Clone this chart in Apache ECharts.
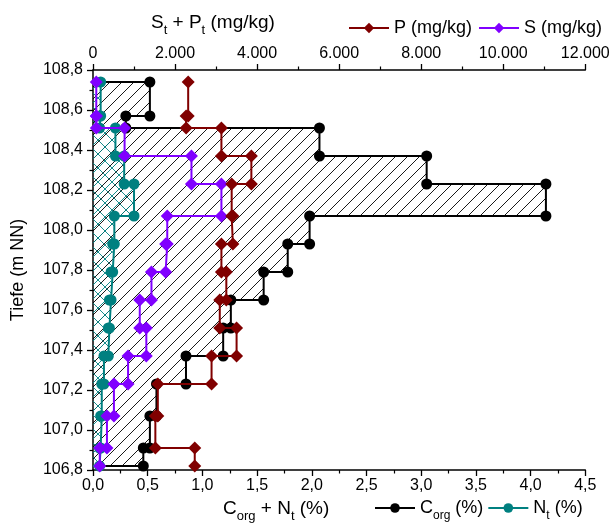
<!DOCTYPE html>
<html>
<head>
<meta charset="utf-8">
<script src="https://cdn.jsdelivr.net/npm/echarts@6/dist/echarts.min.js"></script>
<style>html,body{margin:0;padding:0;background:#fff;}#c{width:613px;height:527px;}</style>
</head>
<body>
<div id="c"></div>
<script>
// Layer boundaries (Tiefe, m NN)
const layerTop    = [108.74,108.57,108.51,108.37,108.23,108.07,107.93,107.79,107.65,107.51,107.37,107.23,107.07,106.91];
const layerBottom = [108.57,108.51,108.37,108.23,108.07,107.93,107.79,107.65,107.51,107.37,107.23,107.07,106.91,106.82];
// C_org (%)
const cOrg = [0.52,0.30,2.07,3.05,4.14,1.98,1.78,1.56,1.26,1.19,0.85,0.58,0.52,0.46];
// N_t (%)
const nT   = [0.07,0.06,0.205,0.285,0.375,0.195,0.18,0.165,0.15,0.14,0.10,0.08,0.07,0.06];
// P (mg/kg)
const pVal = [2320,2270,3130,3860,3380,3410,3130,3250,3090,3500,2890,1580,1520,2480];
// S (mg/kg)
const sVal = [80,80,770,2400,3130,1810,1770,1425,1140,1300,855,510,340,165];
// tick labels
const yTicks = {min:106.8, max:108.8, step:0.2};
const xPctTicks = {min:0, max:4.5, step:0.5};
const xMgTicks = {min:0, max:12000, step:2000};

const FONT = 'Liberation Sans, Arial, sans-serif';

function hatch(size, color, cross, lw) {
  const c = document.createElement('canvas');
  c.width = size; c.height = size;
  const g = c.getContext('2d');
  g.strokeStyle = color; g.lineWidth = lw;
  g.beginPath();
  g.moveTo(-1, size + 1); g.lineTo(size + 1, -1);
  g.moveTo(-2, 2); g.lineTo(2, -2);
  g.moveTo(size - 2, size + 2); g.lineTo(size + 2, size - 2);
  if (cross) {
    g.moveTo(-1, -1); g.lineTo(size + 1, size + 1);
    g.moveTo(size - 2, -2); g.lineTo(size + 2, 2);
    g.moveTo(-2, size - 2); g.lineTo(2, size + 2);
  }
  g.stroke();
  return c;
}
const blackHatch = {image: hatch(12, '#000', false, 0.9), repeat: 'repeat'};
const tealHatch = {image: hatch(14, '#008080', true, 0.9), repeat: 'repeat'};

function steps(vals, withAxis) {
  const pts = [];
  const last = layerBottom.length - 1;
  if (withAxis) pts.push({value: [0, layerTop[0]], symbol: 'none'});
  vals.forEach((v, i) => { pts.push([v, layerTop[i]]); pts.push([v, layerBottom[i]]); });
  if (withAxis) pts.push({value: [0, layerBottom[last]], symbol: 'none'});
  return pts;
}

function fillSeries(vals, pattern, z) {
  return {
    type: 'custom', xAxisIndex: 0, yAxisIndex: 0, silent: true, z: z,
    data: vals.map((v, i) => [v, layerTop[i], layerBottom[i]]),
    encode: {x: 0, y: [1, 2]},
    renderItem: function (params, api) {
      const a = api.coord([0, api.value(1)]);
      const b = api.coord([api.value(0), api.value(2)]);
      return {type: 'rect', shape: {x: a[0], y: a[1], width: b[0] - a[0], height: b[1] - a[1]},
              style: {fill: pattern, stroke: null}};
    }
  };
}

function pct(v) { return v.toFixed(1).replace('.', ','); }
function mg(v) { return String(Math.round(v)).replace(/\B(?=(\d{3})+(?!\d))/g, '.'); }

const chart = echarts.init(document.getElementById('c'), null, {renderer: 'canvas'});
const axisCommon = {
  axisLine: {show: true, onZero: false, lineStyle: {color: '#000', width: 1.5}},
  axisTick: {show: true, inside: false, length: 6, lineStyle: {color: '#000', width: 1.3}},
  minorTick: {show: true, splitNumber: 2, length: 3.5, lineStyle: {color: '#000', width: 1.2}},
  splitLine: {show: false},
  axisLabel: {color: '#000', fontSize: 16, fontFamily: FONT}
};

const subRich = {
  a: {fontSize: 18, fontFamily: FONT, fontWeight: 'normal', color: '#000', lineHeight: 24},
  s: {fontSize: 12, fontFamily: FONT, fontWeight: 'normal', color: '#000', lineHeight: 27, verticalAlign: 'bottom'}
};
const titleRich = {
  a: {fontSize: 19, fontFamily: FONT, fontWeight: 'normal', color: '#000', lineHeight: 24},
  s: {fontSize: 13, fontFamily: FONT, fontWeight: 'normal', color: '#000', lineHeight: 28, verticalAlign: 'bottom'}
};

chart.setOption({
  animation: false,
  backgroundColor: '#fff',
  title: [
    {text: '{a|S}{s|t}{a| + P}{s|t}{a| (mg/kg)}', left: 146, top: 4, textStyle: {fontWeight: 'normal', rich: titleRich}},
    {text: '{a|C}{s|org}{a| + N}{s|t}{a| (%)}', left: 218, top: 490, textStyle: {fontWeight: 'normal', rich: titleRich}}
  ],
  grid: {left: 93, right: 27.7, top: 70, bottom: 57, containLabel: false},
  legend: [
    {data: ['P (mg/kg)', 'S (mg/kg)'], left: 343, top: 14, itemWidth: 40, itemHeight: 13, itemGap: 6,
     textStyle: {fontSize: 18, fontFamily: FONT, color: '#000'}, selectedMode: false},
    {data: ['C_org (%)', 'N_t (%)'], left: 369, top: 494, itemWidth: 40, itemHeight: 12, itemGap: 4,
     selectedMode: false,
     formatter: function (name) {
       return name === 'C_org (%)' ? '{a|C}{s|org}{a| (%)}' : '{a|N}{s|t}{a| (%)}';
     },
     textStyle: {rich: subRich}}
  ],
  xAxis: [
    Object.assign({}, axisCommon, {
      type: 'value', position: 'bottom', min: xPctTicks.min, max: xPctTicks.max, interval: xPctTicks.step,
      axisLabel: Object.assign({}, axisCommon.axisLabel, {formatter: pct, margin: 8})
    }),
    Object.assign({}, axisCommon, {
      type: 'value', position: 'top', min: xMgTicks.min, max: xMgTicks.max, interval: xMgTicks.step,
      axisLabel: Object.assign({}, axisCommon.axisLabel, {formatter: mg, margin: 8})
    })
  ],
  yAxis: [
    Object.assign({}, axisCommon, {
      type: 'value', min: yTicks.min, max: yTicks.max, interval: yTicks.step,
      axisLabel: Object.assign({}, axisCommon.axisLabel, {formatter: pct, margin: 10}),
      name: 'Tiefe (m NN)', nameLocation: 'middle', nameGap: 66,
      nameTextStyle: {fontSize: 18, fontFamily: FONT, color: '#000'}
    })
  ],
  series: [
    fillSeries(cOrg, blackHatch, 1),
    fillSeries(nT, tealHatch, 2),
    {name: 'C_org (%)', type: 'line', xAxisIndex: 0, yAxisIndex: 0, data: steps(cOrg, true), z: 3,
     symbol: 'circle', symbolSize: 11, clip: false,
     lineStyle: {color: '#000', width: 2}, itemStyle: {color: '#000'}},
    {name: 'N_t (%)', type: 'line', xAxisIndex: 0, yAxisIndex: 0, data: steps(nT, true), z: 4,
     symbol: 'circle', symbolSize: 11, clip: false,
     lineStyle: {color: '#008080', width: 2}, itemStyle: {color: '#008080'}},
    {name: 'S (mg/kg)', type: 'line', xAxisIndex: 1, yAxisIndex: 0, data: steps(sVal, false), z: 5,
     symbol: 'diamond', symbolSize: 13, clip: false,
     lineStyle: {color: '#8000ff', width: 2}, itemStyle: {color: '#8000ff'}},
    {name: 'P (mg/kg)', type: 'line', xAxisIndex: 1, yAxisIndex: 0, data: steps(pVal, false), z: 6,
     symbol: 'diamond', symbolSize: 13, clip: false,
     lineStyle: {color: '#800000', width: 2}, itemStyle: {color: '#800000'}}
  ]
});
</script>
</body>
</html>
